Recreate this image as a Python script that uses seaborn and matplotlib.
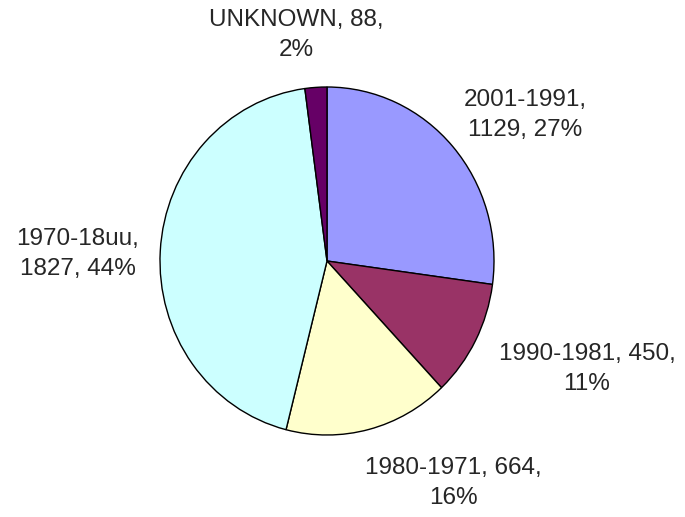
import matplotlib
matplotlib.use("Agg")
import matplotlib.pyplot as plt
import seaborn as sns

categories = ["2001-1991", "1990-1981", "1980-1971", "1970-18uu", "UNKNOWN"]
values = [1129, 450, 664, 1827, 88]
percents = ["27%", "11%", "16%", "44%", "2%"]
colors = ["#9999FF", "#993366", "#FFFFCC", "#CCFFFF", "#660066"]
label_texts = [
    "2001-1991,\n1129, 27%",
    "1990-1981, 450,\n11%",
    "1980-1971, 664,\n16%",
    "1970-18uu,\n1827, 44%",
    "UNKNOWN, 88,\n2%",
]
# label centre positions in pixels (x from left, y from top)
label_px = [(525, 115), (587, 369), (453, 483), (78, 254), (296, 35)]

sns.set_theme(style="white")
plt.rcParams['font.family'] = ['Liberation Sans', 'DejaVu Sans']

W, H = 685, 517
fig = plt.figure(figsize=(W / 100, H / 100), dpi=100)
ax = fig.add_axes([0, 0, 1, 1])
ax.set_axis_off()

cx, cy = 327, 261
rx, ry = 167, 174
ax.pie(values, colors=sns.color_palette(colors), startangle=90, counterclock=False,
       radius=1, center=(0, 0), frame=False,
       wedgeprops=dict(edgecolor="black", linewidth=1.0))
ax.set_aspect("auto")
ax.set_xlim(-cx / rx, (W - cx) / rx)
ax.set_ylim(-(H - cy) / ry, cy / ry)

def px2data(px, py):
    return (px - cx) / rx, (cy - py) / ry

for txt, (px, py) in zip(label_texts, label_px):
    x, y = px2data(px, py)
    ax.text(x, y, txt, ha="center", va="center", fontsize=17.5,
            color="#262626", linespacing=1.42, multialignment="center")

fig.savefig("out.png", dpi=100, facecolor="white")
